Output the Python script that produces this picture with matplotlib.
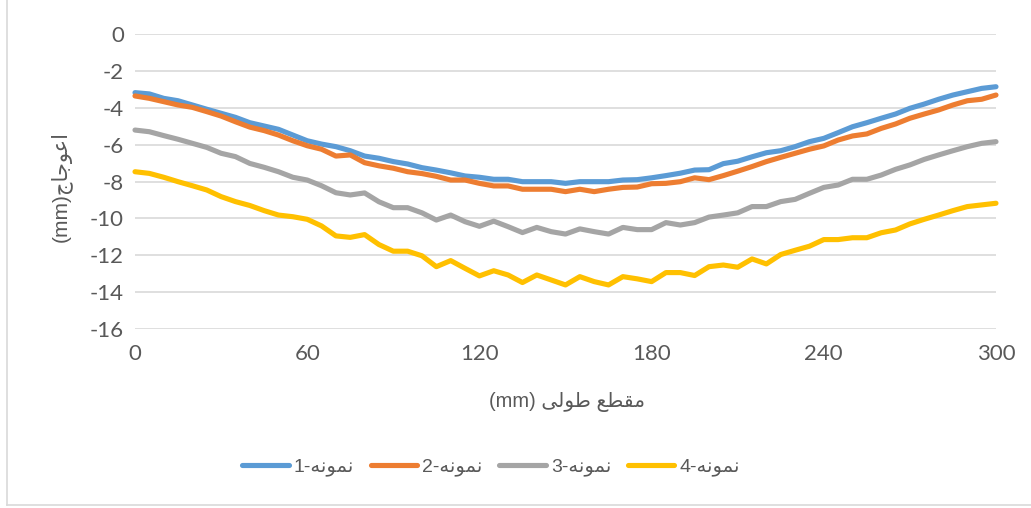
import matplotlib
matplotlib.use("Agg")
import matplotlib.pyplot as plt
from matplotlib.lines import Line2D

plt.rcParams["axes.unicode_minus"] = False

# position along the section (mm)
x_mm = list(range(0, 301, 5))

sample_1 = [-3.18, -3.25, -3.49, -3.62, -3.85, -4.08, -4.30, -4.52, -4.81, -4.99,
            -5.17, -5.48, -5.79, -5.97, -6.11, -6.33, -6.62, -6.74, -6.92, -7.05,
            -7.25, -7.38, -7.53, -7.70, -7.77, -7.88, -7.88, -8.01, -8.01, -8.01,
            -8.10, -8.01, -8.01, -8.01, -7.92, -7.90, -7.80, -7.68, -7.55, -7.38,
            -7.36, -7.03, -6.90, -6.66, -6.44, -6.33, -6.11, -5.84, -5.66, -5.35,
            -5.03, -4.81, -4.57, -4.34, -4.03, -3.80, -3.54, -3.31, -3.13, -2.95,
            -2.86]
sample_2 = [-3.36, -3.49, -3.67, -3.85, -3.98, -4.21, -4.45, -4.76, -5.05, -5.24,
            -5.48, -5.79, -6.06, -6.25, -6.62, -6.56, -6.98, -7.15, -7.28, -7.47,
            -7.57, -7.72, -7.92, -7.92, -8.10, -8.24, -8.24, -8.42, -8.42, -8.42,
            -8.55, -8.42, -8.55, -8.42, -8.32, -8.30, -8.12, -8.10, -8.01, -7.80,
            -7.90, -7.68, -7.44, -7.19, -6.92, -6.69, -6.47, -6.25, -6.07, -5.75,
            -5.53, -5.42, -5.12, -4.88, -4.57, -4.34, -4.12, -3.85, -3.62, -3.54,
            -3.31]
sample_3 = [-5.21, -5.30, -5.51, -5.71, -5.93, -6.15, -6.47, -6.65, -7.02, -7.23,
            -7.47, -7.77, -7.92, -8.23, -8.61, -8.73, -8.62, -9.10, -9.42, -9.42,
            -9.70, -10.09, -9.82, -10.18, -10.43, -10.15, -10.45, -10.77, -10.49, -10.72,
            -10.85, -10.57, -10.72, -10.85, -10.49, -10.61, -10.61, -10.23, -10.36, -10.23,
            -9.93, -9.82, -9.70, -9.36, -9.36, -9.09, -8.97, -8.64, -8.32, -8.19,
            -7.88, -7.88, -7.65, -7.34, -7.10, -6.80, -6.56, -6.33, -6.11, -5.93,
            -5.84]
sample_4 = [-7.47, -7.56, -7.77, -8.01, -8.23, -8.46, -8.82, -9.09, -9.30, -9.58,
            -9.82, -9.91, -10.05, -10.41, -10.95, -11.03, -10.88, -11.42, -11.78, -11.78,
            -12.03, -12.62, -12.29, -12.71, -13.12, -12.84, -13.07, -13.48, -13.07, -13.34,
            -13.61, -13.16, -13.43, -13.61, -13.16, -13.28, -13.43, -12.94, -12.94, -13.10,
            -12.62, -12.53, -12.65, -12.20, -12.47, -11.96, -11.73, -11.51, -11.15, -11.15,
            -11.05, -11.05, -10.78, -10.63, -10.30, -10.05, -9.82, -9.58, -9.36, -9.27,
            -9.18]

# labels in visual order, Arabic presentation forms (matplotlib does no shaping)
word = "\ufeea\ufee7\ufeee\ufee4\ufee7"
series_labels = ["1-" + word, "2-" + word, "3-" + word, "4-" + word]
x_title = "(mm) \ufef0\ufedf\ufeee\ufec3 \ufeca\ufec4\ufed8\ufee3"
y_title = "(mm)\ufe9d\ufe8e\ufe9f\ufeee\ufecb\ufe8d"
x_ticks = [0, 60, 120, 180, 240, 300]
y_ticks = list(range(-16, 1, 2))

colors = ["#5B9BD5", "#ED7D31", "#A5A5A5", "#FFC000"]
arabic_font = ["Liberation Sans", "DejaVu Sans"]
grey_text = "#595959"

fig = plt.figure(figsize=(10.31, 5.08), dpi=100)
ax = fig.add_axes([135 / 1031, 1 - 329 / 508, (996 - 135) / 1031, (329 - 34) / 508])

for ys, c in zip([sample_1, sample_2, sample_3, sample_4], colors):
    ax.plot(x_mm, ys, color=c, lw=3.7, solid_joinstyle="round", solid_capstyle="round",
            clip_on=False, zorder=3)

ax.set_xlim(0, 300)
ax.set_ylim(-16, 0)
ax.set_xticks(x_ticks)
ax.set_yticks(y_ticks)
ax.grid(axis="y", color="#d9d9d9", lw=1.2)
ax.set_axisbelow(True)
for s in ax.spines.values():
    s.set_visible(False)
ax.tick_params(length=0, labelcolor=grey_text, labelsize=16)
ax.tick_params(axis="x", pad=11)
ax.tick_params(axis="y", pad=8)
for lab in ax.get_xticklabels() + ax.get_yticklabels():
    lab.set_family("Lato")

fig.text(567 / 1031, 1 - 402 / 508, x_title, ha="center", va="center",
         family=arabic_font, fontsize=14.5, color=grey_text)
fig.text(61 / 1031, 1 - 186 / 508, y_title, ha="center", va="center", rotation=90,
         family=arabic_font, fontsize=15, color=grey_text)

handles = [Line2D([], [], color=c, lw=3.7, solid_capstyle="round") for c in colors]
fig.legend(handles, series_labels, loc="center", bbox_to_anchor=(491 / 1031, 1 - 467 / 508),
           ncol=4, frameon=False, handlelength=2.4, handletextpad=0.25, columnspacing=0.85,
           prop={"family": arabic_font, "size": 14}, labelcolor=grey_text)

# chart area border
fig.add_artist(Line2D([7 / 1031, 7 / 1031], [1 - 505 / 508, 1], color="#d9d9d9", lw=1.2,
                      transform=fig.transFigure))
fig.add_artist(Line2D([7 / 1031, 1], [1 - 505 / 508, 1 - 505 / 508], color="#d9d9d9", lw=1.2,
                      transform=fig.transFigure))

fig.savefig("out.png", dpi=100, facecolor="white")
